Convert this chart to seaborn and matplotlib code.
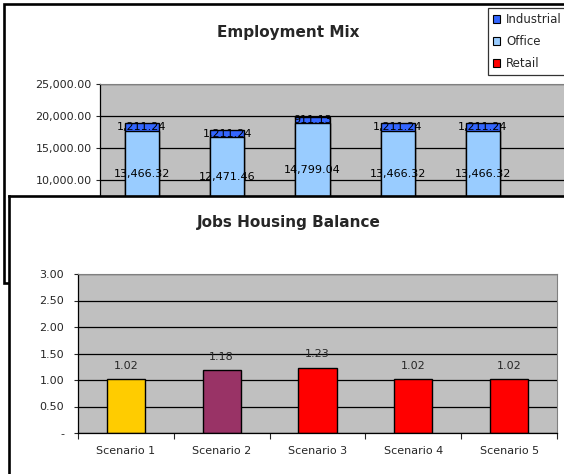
import numpy as np
import matplotlib
matplotlib.use("Agg")
import matplotlib.pyplot as plt
import seaborn as sns
from matplotlib.patches import Rectangle
from matplotlib.ticker import FuncFormatter

# -----------------------------------
# Data
# -----------------------------------
scenarios = ["Scenario 1", "Scenario 2", "Scenario 3", "Scenario 4", "Scenario 5"]

# Employment Mix (stacked: Retail at bottom, Office, Industrial on top)
retail = [4180.0, 4170.0, 4185.0, 4180.0, 4180.0]
office = [13466.32, 12471.46, 14799.04, 13466.32, 13466.32]
industrial = [1211.24, 1211.24, 911.13, 1211.24, 1211.24]

# Jobs Housing Balance
jobs_housing = [1.02, 1.18, 1.23, 1.02, 1.02]
jh_colors = ["#FFCC00", "#993366", "#FF0000", "#FF0000", "#FF0000"]

c_industrial = "#3366FF"
c_office = "#99CCFF"
c_retail = "#FF0000"
plot_gray = "#C0C0C0"

sns.set_style("white")
plt.rcParams["font.family"] = ["DejaVu Sans"]

W, H = 564, 474
fig = plt.figure(figsize=(W / 100, H / 100), dpi=100)
fig.patch.set_facecolor("white")


def fx(px):
    return px / W


def fy(py):
    return 1 - py / H


# -----------------------------------
# Chart frames
# -----------------------------------
top_frame = Rectangle((fx(4), fy(283)), fx(700), fy(4) - fy(283),
                      transform=fig.transFigure, facecolor="white",
                      edgecolor="black", linewidth=1.9, zorder=-5)
fig.patches.append(top_frame)

# -----------------------------------
# Employment Mix (top)
# -----------------------------------
ax1 = fig.add_axes([fx(100), fy(244), fx(470), fy(84) - fy(244)])
ax1.set_zorder(1)
ax1.set_facecolor(plot_gray)

totals = np.array(retail) + np.array(office) + np.array(industrial)
mid = np.array(retail) + np.array(office)

sns.barplot(x=scenarios, y=totals, color=c_industrial, width=0.4,
            edgecolor="black", linewidth=1.0, errorbar=None, ax=ax1,
            saturation=1)
sns.barplot(x=scenarios, y=mid, color=c_office, width=0.4,
            edgecolor="black", linewidth=1.0, errorbar=None, ax=ax1,
            saturation=1)
sns.barplot(x=scenarios, y=retail, color=c_retail, width=0.4,
            edgecolor="black", linewidth=1.0, errorbar=None, ax=ax1,
            saturation=1)

for i in range(len(scenarios)):
    ax1.text(i, retail[i] + office[i] / 2, f"{office[i]:,.2f}",
             ha="center", va="center", fontsize=8, color="black")
    ax1.text(i, mid[i] + industrial[i] / 2, f"{industrial[i]:,.2f}",
             ha="center", va="center", fontsize=8, color="black")

ax1.set_xlim((100 - 142) / 85.25, (570 - 142) / 85.25)
ax1.set_ylim(0, 25000)
ax1.set_yticks(np.arange(0, 25001, 5000))
ax1.yaxis.set_major_formatter(
    FuncFormatter(lambda v, p: "-" if v == 0 else f"{v:,.2f}"))
ax1.yaxis.grid(True, color="black", linewidth=0.9)
ax1.set_axisbelow(True)
ax1.tick_params(axis="y", length=3, width=0.8, direction="out",
                pad=3, labelsize=8, left=True)
ax1.tick_params(axis="x", length=0, labelbottom=False)
ax1.set_xlabel("")
ax1.set_ylabel("")
for s in ["right", "bottom"]:
    ax1.spines[s].set_visible(False)
ax1.spines["top"].set_color("#808080")
ax1.spines["left"].set_color("black")
ax1.spines["left"].set_linewidth(0.9)

fig.text(fx(288), fy(32), "Employment Mix", ha="center", va="center",
         fontsize=11, fontweight="bold")

handles = [Rectangle((0, 0), 1, 1, facecolor=c, edgecolor="black", linewidth=0.8)
           for c in [c_industrial, c_office, c_retail]]
leg = fig.legend(handles, ["Industrial", "Office", "Retail"],
                 loc="upper left", bbox_to_anchor=(fx(488), fy(8)),
                 frameon=True, fancybox=False, fontsize=8.5,
                 handlelength=0.6, handleheight=0.6, handletextpad=0.5,
                 labelspacing=0.75, borderpad=0.45, borderaxespad=0)
leg.get_frame().set_edgecolor("black")
leg.get_frame().set_linewidth(0.9)
leg.set_zorder(1)

# -----------------------------------
# Jobs Housing Balance (bottom)
# -----------------------------------
frame_ax = fig.add_axes([fx(9), fy(520), fx(700), fy(196) - fy(520)])
frame_ax.set_zorder(2)
frame_ax.set_facecolor("white")
frame_ax.set_xticks([])
frame_ax.set_yticks([])
for s in frame_ax.spines.values():
    s.set_color("black")
    s.set_linewidth(1.9)

ax2 = fig.add_axes([fx(78), fy(433), fx(479), fy(274) - fy(433)])
ax2.set_zorder(3)
ax2.set_facecolor(plot_gray)

sns.barplot(x=scenarios, y=jobs_housing, hue=scenarios, palette=jh_colors,
            legend=False, width=0.4, edgecolor="black", linewidth=1.0,
            errorbar=None, saturation=1, ax=ax2)

for cont in ax2.containers:
    ax2.bar_label(cont, fmt="%.2f", padding=6, fontsize=8)

ax2.set_xlim(-0.5, 4.5)
ax2.set_ylim(0, 3)
ax2.set_yticks(np.arange(0, 3.01, 0.5))
ax2.yaxis.set_major_formatter(
    FuncFormatter(lambda v, p: "-" if v == 0 else f"{v:.2f}"))
ax2.yaxis.grid(True, color="black", linewidth=0.9)
ax2.set_axisbelow(True)
ax2.tick_params(axis="y", length=3, width=0.8, direction="out",
                pad=7, labelsize=8, left=True)
ax2.set_xticks(np.arange(len(scenarios)))
ax2.set_xticks(np.arange(-0.5, len(scenarios)), minor=True)
ax2.tick_params(axis="x", which="major", length=0, pad=9, labelsize=8)
ax2.tick_params(axis="x", which="minor", length=4, width=0.8,
                direction="out", bottom=True)
ax2.set_xlabel("")
ax2.set_ylabel("")
for s in ["top", "right"]:
    ax2.spines[s].set_color("#808080")
for s in ["left", "bottom"]:
    ax2.spines[s].set_color("black")
    ax2.spines[s].set_linewidth(0.9)

fig.text(fx(289), fy(222), "Jobs Housing Balance", ha="center", va="center",
         fontsize=11, fontweight="bold", zorder=5)

fig.savefig("out.png", dpi=100, facecolor="white")
